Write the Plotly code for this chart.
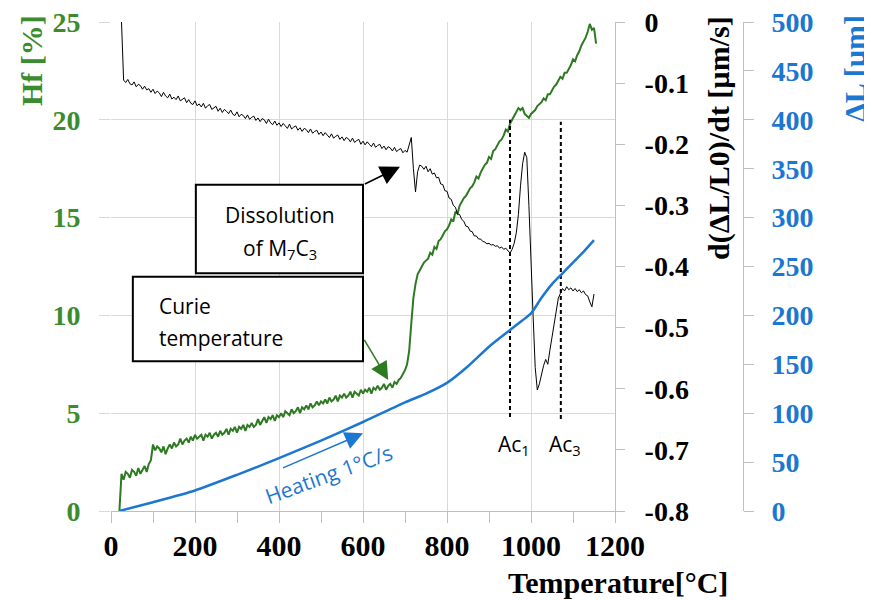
import plotly.graph_objects as go

# ---------------- data ----------------
TEMP_C = [20, 25, 30, 35, 40, 45, 50, 55, 60, 65, 70, 75, 80, 85, 90, 95,
          100, 105, 110, 115, 120, 125, 130, 135, 140, 145, 150, 155, 160, 165, 170, 175,
          180, 185, 190, 195, 200, 205, 210, 215, 220, 225, 230, 235, 240, 245, 250, 255,
          260, 265, 270, 275, 280, 285, 290, 295, 300, 305, 310, 315, 320, 325, 330, 335,
          340, 345, 350, 355, 360, 365, 370, 375, 380, 385, 390, 395, 400, 405, 410, 415,
          420, 425, 430, 435, 440, 445, 450, 455, 460, 465, 470, 475, 480, 485, 490, 495,
          500, 505, 510, 515, 520, 525, 530, 535, 540, 545, 550, 555, 560, 565, 570, 575,
          580, 585, 590, 595, 600, 605, 610, 615, 620, 625, 630, 635, 640, 645, 650, 655,
          660, 665, 670, 675, 680, 685, 690, 695, 700, 705, 710, 715, 720, 725, 730, 735,
          740, 745, 750, 755, 760, 765, 770, 775, 780, 785, 790, 795, 800, 805, 810, 815,
          820, 825, 830, 835, 840, 845, 850, 855, 860, 865, 870, 875, 880, 885, 890, 895,
          900, 905, 910, 915, 920, 925, 930, 935, 940, 945, 950, 955, 960, 965, 970, 975,
          980, 985, 990, 995, 1000, 1005, 1010, 1015, 1020, 1025, 1030, 1035, 1040, 1045, 1050, 1055,
          1060, 1065, 1070, 1075, 1080, 1085, 1090, 1095, 1100, 1105, 1110, 1115, 1120, 1125, 1130, 1135,
          1140, 1145, 1150, 1155]

# Hf [%] (green), T = 20..95
HF_LOW = [0.0, 1.9, 1.6, 2.0, 1.9, 1.7, 2.1, 2.0, 1.8, 2.2, 1.9, 2.1, 2.3, 2.0, 2.4, 2.6]
# T = 100..700
HF_MID = [3.4, 3.1, 3.3, 3.2, 3.0, 3.3, 2.9, 3.2, 3.4, 3.2, 3.5, 3.3, 3.4, 3.7, 3.4, 3.6, 3.7, 3.5, 3.8, 3.6, 3.9,
          3.7, 3.8, 3.9, 3.6, 3.9, 3.8, 4.0, 3.7, 3.9, 4.0, 3.8, 4.1, 3.9, 4.0, 4.2, 3.9, 4.2, 4.1, 4.3, 4.0,
          4.3, 4.2, 4.4, 4.1, 4.4, 4.3, 4.5, 4.3, 4.4, 4.7, 4.4, 4.6, 4.8, 4.5, 4.8, 4.7, 4.9, 4.6, 4.9, 4.8,
          5.0, 4.8, 5.1, 5.0, 4.9, 5.2, 5.0, 5.1, 5.3, 5.0, 5.3, 5.2, 5.4, 5.2, 5.5, 5.3, 5.4, 5.6, 5.4, 5.6,
          5.5, 5.7, 5.5, 5.8, 5.6, 5.7, 5.9, 5.6, 5.9, 5.8, 6.0, 5.8, 5.9, 6.1, 5.8, 6.1, 6.0, 5.9, 6.2, 6.0,
          6.2, 6.1, 6.3, 6.0, 6.3, 6.2, 6.4, 6.2, 6.3, 6.5, 6.2, 6.4, 6.5, 6.3, 6.6, 6.5, 6.7, 6.8, 7.0, 7.2]
# T = 705..1155
HF_HIGH = [7.5, 8.2, 9.6, 10.9, 11.6, 12.1, 12.3,
           12.5, 12.7, 12.8, 12.9, 13.2, 13.1, 13.5, 13.4, 13.8, 13.9, 14.1, 14.3, 14.4, 14.6, 14.9, 14.8,
           15.3, 15.2, 15.6, 15.8, 16.0, 16.1, 16.3, 16.5, 16.6, 16.8, 17.1, 17.0, 17.3, 17.5, 17.7, 17.8,
           18.1, 18.0, 18.4, 18.5, 18.7, 18.9, 19.0, 19.2, 19.5, 19.4, 19.8, 20.0, 20.2, 20.4, 20.6, 20.5,
           20.6, 20.3, 20.2, 20.1, 20.3, 20.4, 20.5, 20.7, 20.8, 20.9, 21.1, 21.0, 21.3, 21.3, 21.5, 21.7,
           21.8, 22.0, 22.2, 22.1, 22.4, 22.4, 22.6, 22.8, 23.1, 23.0, 23.3, 23.5, 23.8, 24.0, 24.2, 24.5,
           24.9, 24.6, 24.7, 23.9]

# d(ΔL/L0)/dt (black), T = 20, 25
DERIV_START = [None, 0.0]
# T = 30..705
DERIV_LOW = [-0.095, -0.099, -0.094, -0.101, -0.103, -0.098, -0.106, -0.102, -0.104, -0.110, -0.105, -0.111, -0.109, -0.115, -0.110,
             -0.117, -0.113, -0.116, -0.122, -0.115, -0.121, -0.124, -0.118, -0.126, -0.123, -0.127, -0.121, -0.129, -0.126, -0.124, -0.132, -0.127, -0.133, -0.135, -0.129,
             -0.137, -0.134, -0.139, -0.133, -0.141, -0.137, -0.135, -0.143, -0.140, -0.138, -0.146, -0.141, -0.148, -0.143, -0.146, -0.150, -0.144, -0.151, -0.153, -0.147,
             -0.155, -0.151, -0.153, -0.158, -0.152, -0.159, -0.156, -0.154, -0.161, -0.157, -0.163, -0.158, -0.160, -0.166, -0.159, -0.165, -0.168, -0.162, -0.169, -0.165,
             -0.171, -0.166, -0.170, -0.174, -0.167, -0.175, -0.172, -0.170, -0.177, -0.173, -0.179, -0.174, -0.176, -0.181, -0.175, -0.182, -0.179, -0.177, -0.184, -0.180,
             -0.186, -0.181, -0.185, -0.189, -0.183, -0.190, -0.187, -0.185, -0.192, -0.188, -0.194, -0.189, -0.191, -0.196, -0.190, -0.197, -0.194, -0.192, -0.200, -0.195,
             -0.201, -0.196, -0.200, -0.204, -0.198, -0.205, -0.202, -0.200, -0.207, -0.203, -0.209, -0.204, -0.206, -0.211, -0.205, -0.212, -0.209, -0.207, -0.214, -0.210, -0.213]
# T = 710..735 (carbide dissolution spike)
DERIV_SPIKE = [-0.200, -0.189, -0.240, -0.278, -0.245, -0.234]
# T = 740..955
DERIV_MID = [-0.236, -0.241, -0.236, -0.245, -0.240, -0.249, -0.247, -0.255, -0.254, -0.265, -0.266, -0.276, -0.277, -0.288, -0.290, -0.300,
             -0.303, -0.314, -0.315, -0.323, -0.326, -0.334, -0.335, -0.342, -0.343, -0.350, -0.350, -0.355, -0.355, -0.359, -0.360, -0.363,
             -0.362, -0.365, -0.364, -0.367, -0.366, -0.370, -0.368, -0.372, -0.370, -0.375, -0.378, -0.372]
# T = 960..1155
DERIV_HIGH = [-0.362, -0.345, -0.315, -0.268, -0.232, -0.213, -0.222, -0.300,
              -0.378, -0.480, -0.565, -0.602, -0.592, -0.575, -0.562, -0.552, -0.560, -0.537,
              -0.515, -0.490, -0.470, -0.452, -0.444, -0.436, -0.440, -0.433, -0.438, -0.435,
              -0.440, -0.436, -0.441, -0.438, -0.443, -0.440, -0.446, -0.448, -0.458, -0.466, -0.445, None]

# ΔL [µm] (blue)
DL_TEMP_C = [20, 100, 200, 300, 400, 500, 600, 700, 750, 800, 850, 900, 950, 980, 1000,
             1025, 1050, 1075, 1100, 1125, 1150]
DL_UM = [0, 9, 21, 37, 54, 72, 91, 111, 120, 131, 148, 168, 185, 195, 202,
         218, 232, 243, 254, 265, 277]

AC_TEMP_C = [950, 1071]
AC_TOP_HF = [20.0, 19.9]
AC_BOTTOM_HF = [4.8, 4.7]
AC_LABELS = ["Ac<sub>1</sub>", "Ac<sub>3</sub>"]

X_TICKS = [0, 200, 400, 600, 800, 1000, 1200]
X_TICKTEXT = ["0", "200", "400", "600", "800", "1000", "1200"]
HF_TICKS = [0, 5, 10, 15, 20, 25]
HF_TICKTEXT = ["0", "5", "10", "15", "20", "25"]
DERIV_TICKS = [0, -0.1, -0.2, -0.3, -0.4, -0.5, -0.6, -0.7, -0.8]
DERIV_TICKTEXT = ["0", "-0.1", "-0.2", "-0.3", "-0.4", "-0.5", "-0.6", "-0.7", "-0.8"]
DL_TICKS = [0, 50, 100, 150, 200, 250, 300, 350, 400, 450, 500]
DL_TICKTEXT = ["0", "50", "100", "150", "200", "250", "300", "350", "400", "450", "500"]

HF_PCT = HF_LOW + HF_MID + HF_HIGH
DERIV = DERIV_START + DERIV_LOW + DERIV_SPIKE + DERIV_MID + DERIV_HIGH

# ---------------- styles ----------------
GREEN_LINE = "#2E7A22"
GREEN_TXT = "#3A8C2E"
BLUE = "#1C77D0"
GRID = "#D9D9D9"
AXLINE = "#BFBFBF"
SERIF = "Liberation Serif"
SANS = "Open Sans"

fig = go.Figure()

fig.add_trace(go.Scatter(x=TEMP_C[:len(HF_PCT)], y=HF_PCT, mode="lines", yaxis="y",
                         line=dict(color=GREEN_LINE, width=2), name="Hf"))
fig.add_trace(go.Scatter(x=DL_TEMP_C, y=DL_UM, mode="lines", yaxis="y3",
                         line=dict(color=BLUE, width=2.5, shape="spline", smoothing=0.6),
                         name="ΔL"))
fig.add_trace(go.Scatter(x=TEMP_C[:len(DERIV)], y=DERIV, mode="lines", yaxis="y2",
                         line=dict(color="black", width=1), name="d(ΔL/L0)/dt",
                         connectgaps=False))
for t, top, bot in zip(AC_TEMP_C, AC_TOP_HF, AC_BOTTOM_HF):
    fig.add_trace(go.Scatter(x=[t, t], y=[bot, top], mode="lines", yaxis="y",
                             line=dict(color="black", width=2, dash="4px,3px"),
                             showlegend=False, hoverinfo="skip"))

ann = []
# axis titles
ann.append(dict(text="Hf [%]", xref="paper", yref="paper", x=-0.1147, y=0.9223,
                xanchor="center", yanchor="middle", textangle=-90, showarrow=False,
                font=dict(family=SERIF, size=30, color=GREEN_TXT, weight="bold")))
ann.append(dict(text="d(ΔL/L0)/dt [µm/s]", xref="paper", yref="paper", x=0.8824, y=0.7628,
                xanchor="center", yanchor="middle", textangle=-90, showarrow=False,
                font=dict(family=SERIF, size=30, color="black", weight="bold")))
ann.append(dict(text="ΔL [µm]", xref="paper", yref="paper", x=1.0798, y=0.906,
                xanchor="center", yanchor="middle", textangle=-90, showarrow=False,
                font=dict(family=SERIF, size=30, color=BLUE, weight="bold")))
ann.append(dict(text="Temperature[°C]", xref="paper", yref="paper", x=0.7358, y=-0.1472,
                xanchor="center", yanchor="middle", showarrow=False,
                font=dict(family=SERIF, size=30, color="black", weight="bold")))

# box texts
ann.append(dict(text="Dissolution", x=402, y=15.15, xref="x", yref="y", showarrow=False,
                xanchor="center", yanchor="middle",
                font=dict(family=SANS, size=21, color="black")))
ann.append(dict(text="of M<sub>7</sub>C<sub>3</sub>", x=402, y=13.4, xref="x", yref="y",
                xanchor="center", yanchor="middle",
                showarrow=False, font=dict(family=SANS, size=21, color="black")))
ann.append(dict(text="Curie", x=109, y=10.48, xref="x", yref="y", xanchor="left",
                yanchor="middle",
                showarrow=False, font=dict(family=SANS, size=21, color="black")))
ann.append(dict(text="temperature", x=109, y=8.85, xref="x", yref="y", xanchor="left",
                yanchor="middle",
                showarrow=False, font=dict(family=SANS, size=21, color="black")))

# arrows
ann.append(dict(text="", x=688, y=17.6, ax=601, ay=16.68, xref="x", yref="y",
                axref="x", ayref="y", showarrow=True, arrowhead=2, arrowsize=2.6,
                arrowwidth=1.5, arrowcolor="black"))
ann.append(dict(text="", x=660, y=6.7, ax=601, ay=8.83, xref="x", yref="y",
                axref="x", ayref="y", showarrow=True, arrowhead=2, arrowsize=2.4,
                arrowwidth=1.5, arrowcolor=GREEN_LINE))
ann.append(dict(text="", x=600, y=3.97, ax=406, ay=2.17, xref="x", yref="y",
                axref="x", ayref="y", showarrow=True, arrowhead=2, arrowsize=2.4,
                arrowwidth=1.5, arrowcolor=BLUE))
ann.append(dict(text="Heating 1°C/s", x=519, y=1.88, xref="x", yref="y", textangle=-20,
                xanchor="center", yanchor="middle",
                showarrow=False, font=dict(family=SANS, size=21, color=BLUE)))

# Ac labels
for t, lab in zip(AC_TEMP_C, AC_LABELS):
    ann.append(dict(text=lab, x=t + 10, y=3.4, xref="x", yref="y", showarrow=False,
                    xanchor="center", yanchor="middle",
                    font=dict(family=SANS, size=21, color="black")))

shapes = [
    dict(type="rect", xref="x", yref="y", x0=202, x1=600, y0=12.15, y1=16.68,
         line=dict(color="black", width=2), fillcolor="white", layer="above"),
    dict(type="rect", xref="x", yref="y", x0=52, x1=600, y0=7.65, y1=11.97,
         line=dict(color="black", width=2), fillcolor="white", layer="above"),
]

# page body adds an 8 px offset, so the figure is 8 px smaller and margins shifted
fig.update_layout(
    width=864, height=592,
    margin=dict(l=103, r=72, t=14, b=89, pad=0, autoexpand=False),
    paper_bgcolor="white", plot_bgcolor="white",
    showlegend=False,
    annotations=ann, shapes=shapes,
    xaxis=dict(domain=[0, 0.73149], range=[0, 1200], tickmode="array",
               tickvals=X_TICKS, ticktext=X_TICKTEXT, automargin=False,
               ticklabeloverflow="allow",
               showgrid=True, gridcolor=GRID, gridwidth=1, zeroline=False,
               showline=True, linecolor=AXLINE, linewidth=1,
               ticks="outside", ticklen=11, tickcolor=AXLINE,
               minor=dict(dtick=100, tick0=0, ticks="outside", ticklen=11,
                          tickcolor=AXLINE, showgrid=False),
               tickfont=dict(family=SERIF, size=30, color="black", weight="bold"),
               ticklabelstandoff=-3),
    yaxis=dict(range=[0, 25], tickmode="array", tickvals=HF_TICKS, ticktext=HF_TICKTEXT,
               automargin=False, ticklabeloverflow="allow",
               showgrid=True, gridcolor=GRID, gridwidth=1, zeroline=False,
               showline=False, ticks="outside", ticklen=11, tickcolor=GRID,
               tickfont=dict(family=SERIF, size=28, color=GREEN_TXT, weight="bold"),
               ticklabelstandoff=13),
    yaxis2=dict(range=[-0.8, 0], overlaying="y", anchor="x", side="right",
                tickmode="array", tickvals=DERIV_TICKS, ticktext=DERIV_TICKTEXT,
                automargin=False, ticklabeloverflow="allow",
                showgrid=False, zeroline=False, showline=True, linecolor=AXLINE,
                ticks="outside", ticklen=9, tickcolor=AXLINE,
                tickfont=dict(family=SERIF, size=28, color="black", weight="bold"),
                ticklabelstandoff=14),
    yaxis3=dict(range=[0, 500], overlaying="y", anchor="free", position=0.91727,
                side="right", tickmode="array", tickvals=DL_TICKS, ticktext=DL_TICKTEXT,
                automargin=False, ticklabeloverflow="allow",
                showgrid=False, zeroline=False, showline=True, linecolor=AXLINE,
                ticks="outside", ticklen=10, tickcolor=AXLINE,
                tickfont=dict(family=SERIF, size=28, color=BLUE, weight="bold"),
                ticklabelstandoff=12),
)

fig.write_html("out.html")
